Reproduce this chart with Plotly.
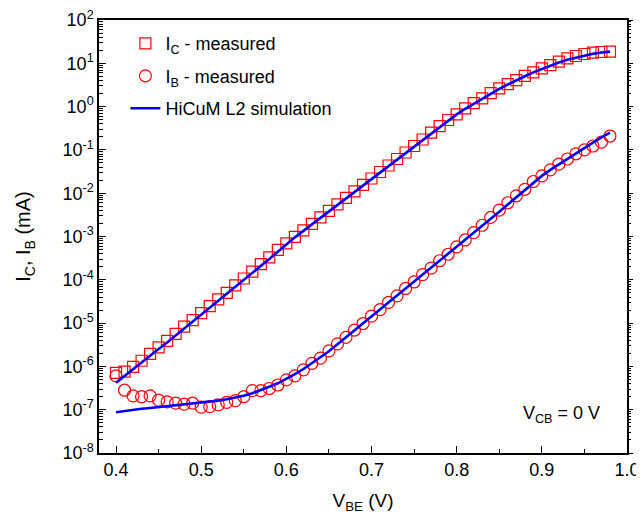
import plotly.graph_objects as go

# Base-emitter voltage (V)
vbe = [0.40, 0.41, 0.42, 0.43, 0.44, 0.45, 0.46, 0.47, 0.48, 0.49,
       0.50, 0.51, 0.52, 0.53, 0.54, 0.55, 0.56, 0.57, 0.58, 0.59,
       0.60, 0.61, 0.62, 0.63, 0.64, 0.65, 0.66, 0.67, 0.68, 0.69,
       0.70, 0.71, 0.72, 0.73, 0.74, 0.75, 0.76, 0.77, 0.78, 0.79,
       0.80, 0.81, 0.82, 0.83, 0.84, 0.85, 0.86, 0.87, 0.88, 0.89,
       0.90, 0.91, 0.92, 0.93, 0.94, 0.95, 0.96, 0.97, 0.98]

# log10 of measured collector current (mA)
log_ic_meas = [-6.15, -6.12, -6.01, -5.87, -5.71, -5.56, -5.41, -5.25, -5.08, -4.93,
               -4.77, -4.61, -4.45, -4.30, -4.13, -3.97, -3.81, -3.64, -3.48, -3.31,
               -3.16, -3.01, -2.86, -2.71, -2.56, -2.41, -2.26, -2.11, -1.96, -1.81,
               -1.66, -1.51, -1.36, -1.21, -1.06, -0.91, -0.76, -0.60, -0.45, -0.31,
               -0.18, -0.04, 0.08, 0.19, 0.31, 0.42, 0.52, 0.61, 0.71, 0.79,
               0.885, 0.96, 1.04, 1.115, 1.169, 1.215, 1.245, 1.261, 1.268]

# log10 of measured base current (mA)
log_ib_meas = [-6.22, -6.55, -6.68, -6.70, -6.68, -6.78, -6.82, -6.85, -6.87, -6.85,
               -6.94, -6.93, -6.89, -6.83, -6.79, -6.70, -6.56, -6.56, -6.51, -6.43,
               -6.31, -6.22, -6.08, -5.93, -5.81, -5.64, -5.48, -5.33, -5.16, -5.01,
               -4.84, -4.69, -4.52, -4.37, -4.20, -4.05, -3.88, -3.73, -3.56, -3.41,
               -3.24, -3.08, -2.91, -2.74, -2.56, -2.39, -2.22, -2.06, -1.91, -1.73,
               -1.60, -1.46, -1.33, -1.21, -1.09, -1.00, -0.91, -0.82, -0.68]

# log10 of simulated collector current (mA)
log_ic_sim = [-6.38, -6.22, -6.06, -5.90, -5.75, -5.60, -5.45, -5.29, -5.13, -4.97,
              -4.81, -4.65, -4.49, -4.34, -4.17, -4.01, -3.85, -3.68, -3.52, -3.35,
              -3.18, -3.02, -2.87, -2.72, -2.57, -2.42, -2.27, -2.12, -1.97, -1.82,
              -1.67, -1.52, -1.37, -1.22, -1.07, -0.92, -0.77, -0.61, -0.46, -0.32,
              -0.18, -0.05, 0.07, 0.19, 0.30, 0.41, 0.51, 0.61, 0.70, 0.79,
              0.87, 0.95, 1.02, 1.08, 1.13, 1.18, 1.22, 1.25, 1.27]

# log10 of simulated base current (mA)
log_ib_sim = [-7.06, -7.03, -7.00, -6.98, -6.96, -6.94, -6.92, -6.90, -6.88, -6.86,
              -6.84, -6.82, -6.79, -6.76, -6.72, -6.68, -6.62, -6.55, -6.47, -6.39,
              -6.29, -6.18, -6.06, -5.93, -5.80, -5.65, -5.49, -5.33, -5.17, -5.01,
              -4.85, -4.69, -4.53, -4.37, -4.21, -4.05, -3.89, -3.73, -3.57, -3.41,
              -3.25, -3.09, -2.93, -2.77, -2.60, -2.43, -2.26, -2.09, -1.92, -1.76,
              -1.60, -1.46, -1.33, -1.20, -1.07, -0.95, -0.83, -0.71, -0.60]

# y tick labels
y_tick_exps = [-8, -7, -6, -5, -4, -3, -2, -1, 0, 1, 2]
y_tick_text = ["10<sup>%d</sup>" % e for e in y_tick_exps]

ic_meas = [10 ** v for v in log_ic_meas]
ib_meas = [10 ** v for v in log_ib_meas]
ic_sim = [10 ** v for v in log_ic_sim]
ib_sim = [10 ** v for v in log_ib_sim]
y_tick_vals = [10.0 ** e for e in y_tick_exps]
y_minor_vals = [m * 10.0 ** e for e in y_tick_exps[:-1] for m in range(2, 10)]

FONT = "Liberation Sans, Arial, sans-serif"
RED = "#ff0000"
BLUE = "#0000ff"

fig = go.Figure()

fig.add_trace(go.Scatter(
    x=vbe, y=ic_meas, mode="markers", name="I<sub>C</sub> - measured",
    marker=dict(symbol="square-open", size=11, color=RED, line=dict(width=1.2, color=RED)),
    legendgroup="a"))
fig.add_trace(go.Scatter(
    x=vbe, y=ib_meas, mode="markers", name="I<sub>B</sub> - measured",
    marker=dict(symbol="circle-open", size=12, color=RED, line=dict(width=1.2, color=RED)),
    legendgroup="b"))
fig.add_trace(go.Scatter(
    x=vbe, y=ic_sim, mode="lines", name="HiCuM L2 simulation",
    line=dict(color=BLUE, width=2.6), legendgroup="c"))
fig.add_trace(go.Scatter(
    x=vbe, y=ib_sim, mode="lines", showlegend=False,
    line=dict(color=BLUE, width=2.6), legendgroup="c"))
# helper for right-hand tick axis
fig.add_trace(go.Scatter(x=[vbe[0]], y=[ic_meas[0]], yaxis="y2", mode="markers",
                         marker=dict(opacity=0), showlegend=False, hoverinfo="skip"))

fig.update_layout(
    width=636, height=516,
    margin=dict(l=91, r=17, t=12, b=71, autoexpand=False),
    paper_bgcolor="white", plot_bgcolor="white",
    font=dict(family=FONT, size=18, color="black"),
    showlegend=True,
    legend=dict(x=0.05, y=0.988, xanchor="left", yanchor="top",
                bgcolor="rgba(0,0,0,0)", font=dict(size=18, family=FONT),
                tracegroupgap=6),
    xaxis=dict(
        range=[0.38, 1.0], dtick=0.1, tick0=0.4, tickformat=".1f",
        ticks="inside", ticklen=7, tickwidth=1.2, tickcolor="black",
        minor=dict(ticks="inside", ticklen=4, dtick=0.05, tick0=0.4, tickcolor="black"),
        showline=True, linecolor="black", linewidth=1.5, mirror=True,
        showgrid=False, zeroline=False, automargin=False, ticklabeloverflow="allow",
        title=dict(text="V<sub>BE</sub> (V)", font=dict(size=19), standoff=14),
        tickfont=dict(size=18),
    ),
    yaxis=dict(
        type="log", range=[-8, 2], tickmode="array", tickvals=y_tick_vals, ticktext=y_tick_text,
        ticks="inside", ticklen=7, tickwidth=1.2, tickcolor="black",
        minor=dict(ticks="inside", ticklen=4, tickmode="array", tickvals=y_minor_vals,
                   tickcolor="black"),
        showline=True, linecolor="black", linewidth=1.5, mirror=True,
        showgrid=False, zeroline=False, automargin=False, ticklabeloverflow="allow",
        title=dict(text="I<sub>C</sub>, I<sub>B</sub> (mA)", font=dict(size=20), standoff=26),
        tickfont=dict(size=18),
    ),
    yaxis2=dict(
        type="log", range=[-8, 2], tickmode="array", tickvals=y_tick_vals, overlaying="y",
        side="right", ticks="outside", ticklen=5, tickwidth=1, tickcolor="black",
        minor=dict(ticks="outside", ticklen=3, tickmode="array", tickvals=y_minor_vals,
                   tickcolor="black"),
        showticklabels=False, showgrid=False, zeroline=False, showline=False,
        automargin=False,
    ),
    annotations=[dict(
        x=0.952, y=0.09, xref="paper", yref="paper", xanchor="right", yanchor="middle",
        text="V<sub>CB</sub> = 0 V", showarrow=False, font=dict(size=18, family=FONT))],
)

fig.write_html("out.html")
